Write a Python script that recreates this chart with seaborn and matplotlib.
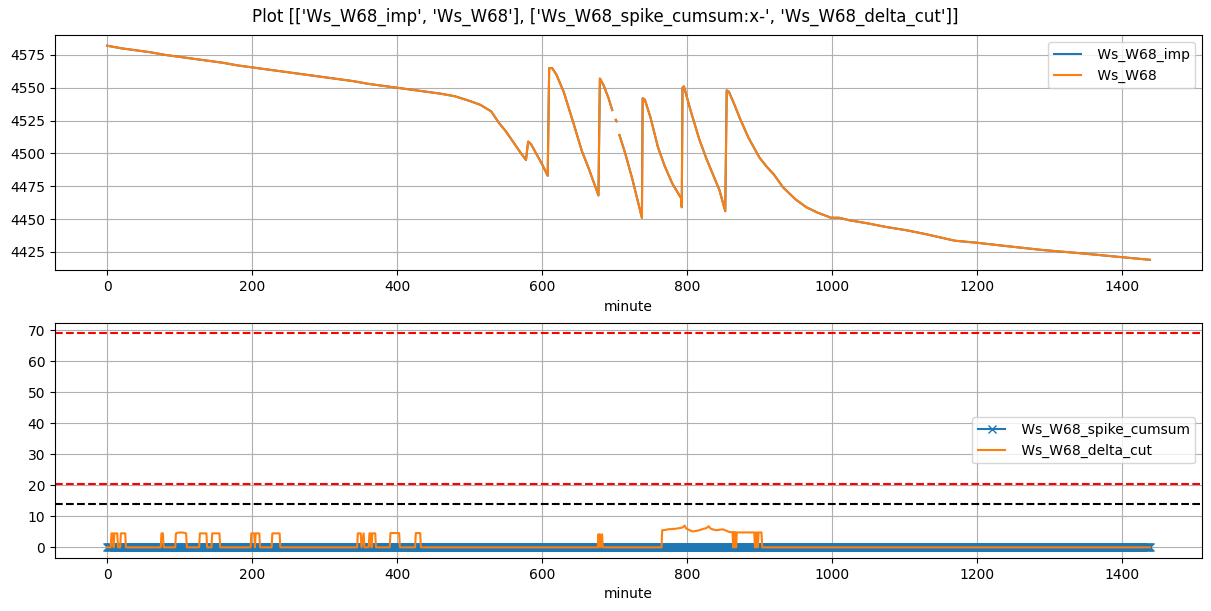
import numpy as np
import pandas as pd
import matplotlib
matplotlib.use("Agg")
import matplotlib.pyplot as plt
import seaborn as sns

# ---------------- data ----------------
ws_minutes = [0, 20, 40, 60, 80, 100, 120, 140, 160, 180, 200, 220, 240, 260, 280,
              300, 320, 340, 360, 380, 400, 420, 440, 460, 480, 500, 515, 530, 541,
              550, 560, 570, 578, 581, 585, 595, 600, 608, 610, 614, 620, 630, 643,
              655, 665, 678, 680, 685, 692, 697, 698, 702, 703, 704, 707, 715, 725,
              738, 739, 742, 750, 760, 769, 780, 792, 793, 794, 796, 805, 817, 827,
              836, 845, 853, 855, 858, 865, 873, 885, 900, 910, 920, 933, 950, 965,
              980, 999, 1010, 1025, 1047, 1075, 1103, 1130, 1170, 1200, 1240, 1290,
              1343, 1400, 1439]
ws_values = [4582, 4580, 4578.5, 4577, 4575, 4573.5, 4572, 4570.5, 4569, 4567, 4565.5,
             4564, 4562.5, 4561, 4559.5, 4558, 4556.5, 4555, 4553, 4551.5, 4550, 4548.5,
             4547, 4545.5, 4543.5, 4540, 4537, 4532, 4523, 4517, 4509, 4501, 4495, 4509,
             4507, 4497, 4492, 4483, 4565, 4565, 4560, 4547, 4524, 4502, 4488, 4468,
             4557, 4552, 4542, 4533, np.nan, 4525.5, 4524.5, np.nan, 4514, 4500, 4480,
             4451, 4542, 4541, 4527, 4505, 4491, 4477, 4466, 4459, 4550, 4551, 4533,
             4511, 4496, 4484, 4472, 4456, 4548, 4547, 4538, 4527, 4512, 4497, 4490,
             4484, 4474, 4465, 4459, 4455, 4451, 4451, 4449, 4447, 4444, 4441.5, 4438.5,
             4433.5, 4432, 4429.5, 4426.5, 4424, 4421, 4419]
ws_imp_values = list(ws_values)

spike_minutes = list(range(1440))
spike_cumsum = [0] * 1440

delta_minutes = [0, 5, 6, 8, 9, 10, 14, 15, 18, 19, 25, 26, 74, 75, 77, 78,
                 94, 95, 98, 102, 106, 109, 110, 127, 128, 137, 138, 144, 145, 155, 156,
                 198, 199, 203, 204, 205, 210, 211, 227, 228, 238, 239,
                 345, 346, 350, 351, 354, 355, 361, 362, 364, 365, 366, 370, 371,
                 390, 391, 403, 404, 425, 426, 432, 433,
                 677, 678, 679, 680, 681, 683, 684,
                 765, 766, 770, 774, 780, 785, 790, 794, 797, 799, 803, 808, 813, 817,
                 822, 827, 830, 833, 837, 841, 846, 850, 855, 859, 863, 864, 865, 866,
                 867, 868, 869, 880, 893, 894, 895, 896, 897, 898, 899, 903, 904, 1439]
delta_values = [0, 0, 4.5, 4.5, 0, 4.5, 4.5, 0, 0, 4.5, 4.5, 0, 0, 4.5, 4.5, 0,
                0, 4.5, 4.7, 4.8, 4.7, 4.5, 0, 0, 4.5, 4.5, 0, 0, 4.5, 4.5, 0,
                0, 4.5, 4.5, 0, 4.5, 4.5, 0, 0, 4.5, 4.5, 0,
                0, 4.5, 4.5, 0, 4.5, 0, 0, 4.5, 4.5, 0, 4.5, 4.5, 0,
                0, 4.6, 4.6, 0, 0, 4.6, 4.6, 0,
                0, 4.2, 0, 4.2, 0, 4.2, 0,
                0, 5.5, 5.6, 5.8, 5.9, 6.0, 6.2, 6.4, 7.0, 6.1, 5.6, 5.1, 5.3, 5.5,
                5.9, 6.2, 6.8, 6.0, 5.7, 5.5, 5.7, 5.8, 5.3, 4.9, 4.9, 0, 4.9, 0,
                4.9, 0, 4.8, 4.8, 4.8, 0, 4.8, 0, 4.8, 0, 4.8, 4.8, 0, 0]

hlines_red = [69, 20.5]
hline_black = 14

title = "Plot [['Ws_W68_imp', 'Ws_W68'], ['Ws_W68_spike_cumsum:x-', 'Ws_W68_delta_cut']]"

# ---------------- figure ----------------
fig, (ax1, ax2) = plt.subplots(2, 1, figsize=(12.11, 6.11), dpi=100)
fig.subplots_adjust(left=0.0454, right=0.9926, top=0.9427, bottom=0.0867, hspace=0.221)
fig.suptitle(title, fontsize=12, y=0.987, va="top")


def draw_segmented(ax, xs, ys, color, label):
    df = pd.DataFrame({"minute": xs, "val": ys})
    df["seg"] = df["val"].isna().cumsum()
    df = df.dropna()
    first = True
    for _, sub in df.groupby("seg"):
        sns.lineplot(data=sub, x="minute", y="val", ax=ax, color=color,
                     estimator=None, sort=False, linewidth=1.5,
                     label=label if first else None, legend=False)
        first = False


draw_segmented(ax1, ws_minutes, ws_imp_values, "C0", " Ws_W68_imp")
draw_segmented(ax1, ws_minutes, ws_values, "C1", " Ws_W68")
ax1.set_xlabel("minute")
ax1.set_ylabel("")
ax1.grid(True)
ax1.legend(loc="upper right")

df_spike = pd.DataFrame({"minute": spike_minutes, "val": spike_cumsum})
sns.lineplot(data=df_spike, x="minute", y="val", ax=ax2, color="C0",
             marker="x", markeredgecolor="C0", markeredgewidth=1.0, markersize=6,
             estimator=None, sort=False, label=" Ws_W68_spike_cumsum", legend=False)
df_delta = pd.DataFrame({"minute": delta_minutes, "val": delta_values})
sns.lineplot(data=df_delta, x="minute", y="val", ax=ax2, color="C1",
             estimator=None, sort=False, label=" Ws_W68_delta_cut", legend=False)
for h in hlines_red:
    ax2.axhline(h, color="r", linestyle="--")
ax2.axhline(hline_black, color="k", linestyle="--")
ax2.set_xlabel("minute")
ax2.set_ylabel("")
ax2.set_yticks([0, 10, 20, 30, 40, 50, 60, 70])
ax2.grid(True)
ax2.legend(loc="center right")

fig.savefig("out.png", dpi=100)
